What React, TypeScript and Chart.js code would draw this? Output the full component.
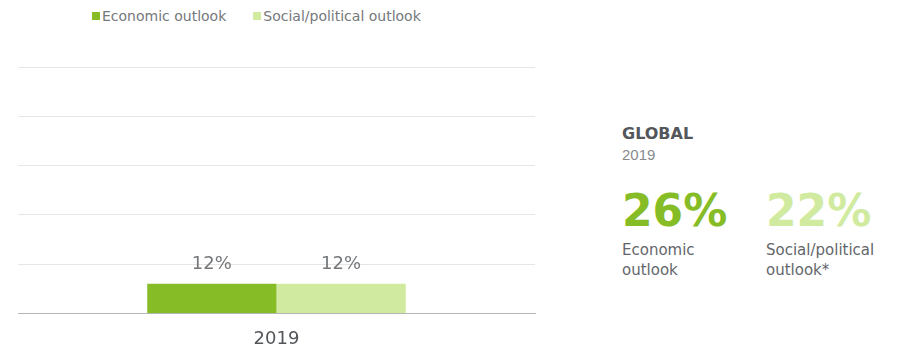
import React, { useEffect, useRef } from "react";
import { Chart, registerables } from "chart.js";
Chart.register(...registerables);

const categories = ["2019"];
const seriesNames = ["Economic outlook", "Social/political outlook"];
const economicValues = [12];
const socialValues = [12];
const seriesColors = ["#86bc25", "#d0eba0"];
const globalYear = "2019";
const globalValues = ["26%", "22%"];
const globalLabels = [["Economic", "outlook"], ["Social/political", "outlook*"]];

const FONT = "'DejaVu Sans', Verdana, sans-serif";

const valueLabels = {
  id: "valueLabels",
  afterDatasetsDraw(chart: any) {
    const ctx = chart.ctx;
    ctx.save();
    ctx.font = `18px ${FONT}`;
    ctx.fillStyle = "#75787b";
    ctx.textAlign = "center";
    ctx.textBaseline = "alphabetic";
    chart.data.datasets.forEach((ds: any, i: number) => {
      const meta = chart.getDatasetMeta(i);
      meta.data.forEach((bar: any, j: number) => {
        ctx.fillText(ds.data[j] + "%", bar.x, bar.y - 15);
      });
    });
    ctx.restore();
  },
};

export default function App() {
  const ref = useRef<HTMLCanvasElement>(null);
  useEffect(() => {
    const chart = new Chart(ref.current!, {
      type: "bar",
      data: {
        labels: categories,
        datasets: [
          { label: seriesNames[0], data: economicValues, backgroundColor: seriesColors[0] },
          { label: seriesNames[1], data: socialValues, backgroundColor: seriesColors[1] },
        ],
      },
      options: {
        animation: false,
        responsive: false,
        layout: { padding: { left: 18, right: 10, top: 67, bottom: 0 } },
        datasets: { bar: { barPercentage: 1, categoryPercentage: 0.5 } },
        plugins: { legend: { display: false }, tooltip: { enabled: false } },
        scales: {
          x: {
            grid: { display: false, drawTicks: false },
            border: { display: true, color: "#b5b5b5", width: 1 },
            ticks: { color: "#53565a", font: { family: FONT, size: 18 }, padding: 15 },
          },
          y: {
            min: 0,
            max: 100,
            ticks: { display: false, stepSize: 20 },
            grid: { color: "#e6e6e6", drawTicks: false },
            border: { display: false },
          },
        },
      },
      plugins: [valueLabels],
    });
    return () => chart.destroy();
  }, []);

  const abs = (left: number, top: number, extra: any) => ({ position: "absolute" as const, left, top, whiteSpace: "nowrap" as const, ...extra });

  return (
    <div style={{ position: "fixed", left: 0, top: 0, width: 899, height: 348, background: "#fff", fontFamily: FONT, overflow: "hidden" }}>
      <div style={{ position: "absolute", left: 92, top: 8, display: "flex", alignItems: "center", fontSize: 14, lineHeight: "16px", color: "#75787b" }}>
        {seriesNames.map((n, i) => (
          <div key={n} style={{ display: "flex", alignItems: "center", marginRight: 27 }}>
            <span style={{ display: "inline-block", width: 8, height: 8, background: seriesColors[i], marginRight: 2 }} />
            <span>{n}</span>
          </div>
        ))}
      </div>
      <canvas ref={ref} width={545} height={365} style={{ position: "absolute", left: 0, top: 0 }} />
      <div style={abs(622, 124, { fontWeight: "bold", fontSize: 16, lineHeight: "20px", color: "#53565a" })}>GLOBAL</div>
      <div style={abs(622, 145, { fontSize: 15, lineHeight: "20px", color: "#888b8d", fontFamily: "'Liberation Sans', Arial, sans-serif" })}>{globalYear}</div>
      {globalValues.map((v, i) => (
        <React.Fragment key={v + i}>
          <div style={abs(i === 0 ? 622 : 766, 189, { fontWeight: "bold", fontSize: 44, lineHeight: "44px", color: seriesColors[i] })}>{v}</div>
          <div style={abs(i === 0 ? 622 : 766, 240, { fontSize: 15, lineHeight: "20px", color: "#63666a" })}>
            {globalLabels[i][0]}<br />{globalLabels[i][1]}
          </div>
        </React.Fragment>
      ))}
    </div>
  );
}
